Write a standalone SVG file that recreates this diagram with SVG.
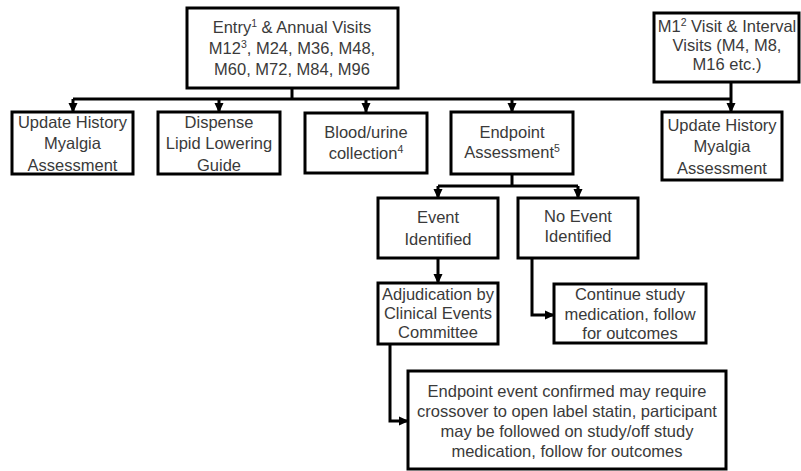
<svg xmlns="http://www.w3.org/2000/svg" width="801" height="471" viewBox="0 0 801 471">
<style>
.box{fill:#fff;stroke:#000;stroke-width:3}
.t{font-family:"Liberation Sans",Arial,sans-serif;font-size:16.5px;fill:#3a3a3a;text-anchor:middle}
.c{fill:none;stroke:#000;stroke-width:3}
.sup{font-size:10.5px}
</style>
<defs>
<marker id="ah" markerUnits="userSpaceOnUse" markerWidth="10" markerHeight="10" viewBox="0 0 10 10" refX="9" refY="5" orient="auto">
<path d="M0,0.5 L10,5 L0,9.5 z" fill="#000"/>
</marker>
</defs>
<rect width="801" height="471" fill="#fff"/>
<g id="connectors">
<path class="c" d="M292,88 V99"/>
<path class="c" d="M73,99 H732"/>
<path class="c" d="M73,99 V112" marker-end="url(#ah)"/>
<path class="c" d="M219,99 V112" marker-end="url(#ah)"/>
<path class="c" d="M366,99 V112" marker-end="url(#ah)"/>
<path class="c" d="M512,99 V112" marker-end="url(#ah)"/>
<path class="c" d="M731,82 V112" marker-end="url(#ah)"/>
<path class="c" d="M512,174 V186"/>
<path class="c" d="M438,186 H578"/>
<path class="c" d="M438,186 V198" marker-end="url(#ah)"/>
<path class="c" d="M578,186 V198" marker-end="url(#ah)"/>
<path class="c" d="M438,258 V283" marker-end="url(#ah)"/>
<path class="c" d="M532,258 V315 H554" marker-end="url(#ah)"/>
<path class="c" d="M390,344 V421 H408" marker-end="url(#ah)"/>
</g>
<g id="entry">
<rect class="box" x="187" y="8" width="211" height="80"/>
<text class="t" x="292" y="33">Entry<tspan class="sup" dy="-6">1</tspan><tspan dy="6"> &amp; Annual Visits</tspan></text>
<text class="t" x="292" y="54">M12<tspan class="sup" dy="-6">3</tspan><tspan dy="6">, M24, M36, M48,</tspan></text>
<text class="t" x="292" y="75">M60, M72, M84, M96</text>
</g>
<g id="m1">
<rect class="box" x="654" y="13" width="145" height="69"/>
<text class="t" x="727" y="32">M1<tspan class="sup" dy="-6">2</tspan><tspan dy="6"> Visit &amp; Interval</tspan></text>
<text class="t" x="727" y="51">Visits (M4, M8,</text>
<text class="t" x="727" y="70">M16 etc.)</text>
</g>
<g id="update-left">
<rect class="box" x="12" y="112" width="121" height="62"/>
<text class="t" x="72.5" y="128">Update History</text>
<text class="t" x="72.5" y="149">Myalgia</text>
<text class="t" x="72.5" y="171">Assessment</text>
</g>
<g id="dispense">
<rect class="box" x="158" y="112" width="122" height="62"/>
<text class="t" x="219" y="128">Dispense</text>
<text class="t" x="219" y="149">Lipid Lowering</text>
<text class="t" x="219" y="171">Guide</text>
</g>
<g id="blood">
<rect class="box" x="305" y="113" width="122" height="60"/>
<text class="t" x="366" y="138">Blood/urine</text>
<text class="t" x="366" y="159">collection<tspan class="sup" dy="-6">4</tspan></text>
</g>
<g id="endpoint">
<rect class="box" x="451" y="112" width="122" height="62"/>
<text class="t" x="512" y="138">Endpoint</text>
<text class="t" x="512" y="158">Assessment<tspan class="sup" dy="-6">5</tspan></text>
</g>
<g id="update-right">
<rect class="box" x="662" y="112" width="120" height="68"/>
<text class="t" x="722" y="131">Update History</text>
<text class="t" x="722" y="152">Myalgia</text>
<text class="t" x="722" y="174">Assessment</text>
</g>
<g id="event">
<rect class="box" x="378" y="198" width="120" height="60"/>
<text class="t" x="438" y="223">Event</text>
<text class="t" x="438" y="245">Identified</text>
</g>
<g id="no-event">
<rect class="box" x="518" y="198" width="120" height="60"/>
<text class="t" x="578" y="222">No Event</text>
<text class="t" x="578" y="242">Identified</text>
</g>
<g id="adjudication">
<rect class="box" x="378" y="283" width="120" height="61"/>
<text class="t" x="438" y="300">Adjudication by</text>
<text class="t" x="438" y="319">Clinical Events</text>
<text class="t" x="438" y="338">Committee</text>
</g>
<g id="continue">
<rect class="box" x="554" y="284" width="152" height="59"/>
<text class="t" x="630" y="300">Continue study</text>
<text class="t" x="630" y="320">medication, follow</text>
<text class="t" x="630" y="339">for outcomes</text>
</g>
<g id="confirmed">
<rect class="box" x="408" y="371" width="318" height="98"/>
<text class="t" x="567" y="397">Endpoint event confirmed may require</text>
<text class="t" x="567" y="417">crossover to open label statin, participant</text>
<text class="t" x="567" y="437">may be followed on study/off study</text>
<text class="t" x="567" y="457">medication, follow for outcomes</text>
</g>
</svg>
